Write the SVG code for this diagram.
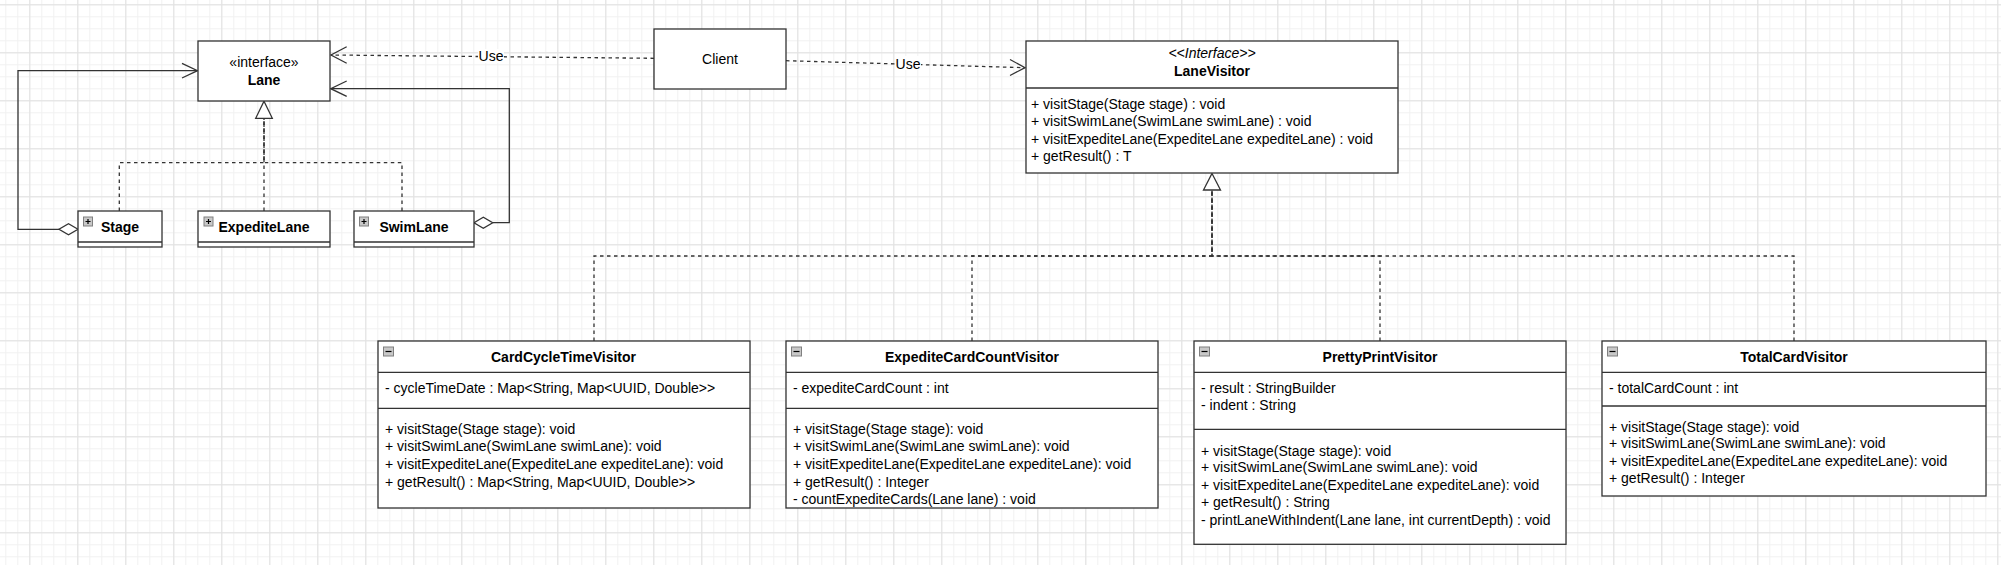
<svg xmlns="http://www.w3.org/2000/svg" width="2001" height="565" viewBox="0 0 2001 565">
<style>
  text { font-family: "Liberation Sans", Arial, sans-serif; font-size: 14px; fill: #000; }
  .b { font-weight: bold; }
  .c { text-anchor: middle; }
  .i { font-style: italic; }
  .box { fill: #fff; stroke: #333; stroke-width: 1.3; }
  .sep { stroke: #333; stroke-width: 1.3; fill: none; }
  .ln { fill: none; stroke: #333; stroke-width: 1.3; }
  .dash { fill: none; stroke: #333; stroke-width: 1.3; stroke-dasharray: 3.5 3.5; }
  .icon { fill: #c8c8c8; stroke: #808080; stroke-width: 1; }
  .glyph { stroke: #000; stroke-width: 1.2; }
  .tri { fill: #fff; stroke: #333; stroke-width: 1.3; }
  .dia { fill: #fff; stroke: #333; stroke-width: 1.3; }
  .lbl { fill: #fff; }
</style>
<defs>
  <pattern id="minor" width="12" height="12" patternUnits="userSpaceOnUse" x="5.3" y="4.3">
    <path d="M0 0.5H12M0.5 0V12" stroke="#f1f1f1" stroke-width="1" fill="none"/>
  </pattern>
  <pattern id="major" width="48" height="48" patternUnits="userSpaceOnUse" x="29.3" y="4.3">
    <path d="M0 0.5H48M0.5 0V48" stroke="#e1e1e1" stroke-width="1" fill="none"/>
  </pattern>
</defs>
<rect width="2001" height="565" fill="#fff"/>
<rect width="2001" height="565" fill="url(#minor)"/>
<rect width="2001" height="565" fill="url(#major)"/>

<g id="connectors">
  <!-- Client -> Lane (Use) -->
  <path class="dash" d="M654 58.3 L331 55"/>
  <path class="ln" d="M346.7 46.7 L331 55 L346.7 63.3"/>
  <rect class="lbl" x="478" y="49" width="26" height="14"/>
  <text x="491" y="61" class="c">Use</text>
  <!-- Client -> LaneVisitor (Use) -->
  <path class="dash" d="M786 60.7 L1025 67.7"/>
  <path class="ln" d="M1010 59.5 L1025 67.7 L1010 75.5"/>
  <rect class="lbl" x="895" y="56" width="26" height="14"/>
  <text x="908" y="68.5" class="c">Use</text>
  <!-- Stage aggregation to Lane -->
  <path class="ln" d="M59 229.3 H18 V70.7 H197"/>
  <path class="ln" d="M182 63.3 L197.5 70.7 L182 78"/>
  <path class="dia" d="M78 229.3 L68.5 223.8 L59 229.3 L68.5 234.8 Z"/>
  <!-- SwimLane aggregation to Lane -->
  <path class="ln" d="M492.7 222.7 H509.3 V88.7 H331"/>
  <path class="ln" d="M346.7 81 L330.7 88.7 L346.7 96.3"/>
  <path class="dia" d="M474 222.7 L483.3 217.2 L492.7 222.7 L483.3 228.2 Z"/>
  <!-- Realizations of Lane -->
  <path class="dash" d="M119.3 211 V162.7 H264 V118.3"/>
  <path class="dash" d="M264 211 V118.3"/>
  <path class="dash" d="M402 211 V162.7 H264 V118.3"/>
  <path class="tri" d="M264 101.3 L272.3 118.3 L255.7 118.3 Z"/>
  <!-- Realizations of LaneVisitor -->
  <path class="dash" d="M594 341 V256 H1212 V190"/>
  <path class="dash" d="M972 341 V256 H1212 V190"/>
  <path class="dash" d="M1380 341 V256 H1212 V190"/>
  <path class="dash" d="M1794 341 V256 H1212 V190"/>
  <path class="tri" d="M1212 173.5 L1220.5 190 L1203.5 190 Z"/>
</g>

<g id="Lane">
  <rect class="box" x="198" y="41" width="132" height="60"/>
  <text x="264" y="67" class="c">«interface»</text>
  <text x="264" y="85" class="c b">Lane</text>
</g>

<g id="Stage">
  <rect class="box" x="78" y="211" width="84" height="36"/>
  <line class="sep" x1="78" y1="242" x2="162" y2="242"/>
  <rect class="icon" x="83.5" y="217" width="9" height="9"/>
  <path class="glyph" d="M85.5 221.5H90.5M88 219V224"/>
  <text x="120" y="232" class="c b">Stage</text>
</g>

<g id="ExpediteLane">
  <rect class="box" x="198" y="211" width="132" height="36"/>
  <line class="sep" x1="198" y1="242" x2="330" y2="242"/>
  <rect class="icon" x="204" y="217" width="9" height="9"/>
  <path class="glyph" d="M206 221.5H211M208.5 219V224"/>
  <text x="264" y="232" class="c b">ExpediteLane</text>
</g>

<g id="SwimLane">
  <rect class="box" x="354" y="211" width="120" height="36"/>
  <line class="sep" x1="354" y1="242" x2="474" y2="242"/>
  <rect class="icon" x="359.5" y="217" width="9" height="9"/>
  <path class="glyph" d="M361.5 221.5H366.5M364 219V224"/>
  <text x="414" y="232" class="c b">SwimLane</text>
</g>

<g id="Client">
  <rect class="box" x="654" y="29" width="132" height="60"/>
  <text x="720" y="64" class="c">Client</text>
</g>

<g id="LaneVisitor">
  <rect class="box" x="1026" y="41" width="372" height="132"/>
  <line class="sep" x1="1026" y1="88" x2="1398" y2="88"/>
  <text x="1212" y="58.3" class="c i">&lt;&lt;Interface&gt;&gt;</text>
  <text x="1212" y="75.7" class="c b">LaneVisitor</text>
  <text x="1031" y="109.3">+ visitStage(Stage stage) : void</text>
  <text x="1031" y="126">+ visitSwimLane(SwimLane swimLane) : void</text>
  <text x="1031" y="144">+ visitExpediteLane(ExpediteLane expediteLane) : void</text>
  <text x="1031" y="160.7">+ getResult() : T</text>
</g>

<g id="CardCycleTimeVisitor">
  <rect class="box" x="378" y="341" width="372" height="167"/>
  <line class="sep" x1="378" y1="372.3" x2="750" y2="372.3"/>
  <line class="sep" x1="378" y1="408.3" x2="750" y2="408.3"/>
  <rect class="icon" x="383.5" y="347" width="10" height="9"/>
  <path class="glyph" d="M385.5 351.5H391.5"/>
  <text x="563.5" y="361.7" class="c b">CardCycleTimeVisitor</text>
  <text x="385" y="393.3">- cycleTimeDate : Map&lt;String, Map&lt;UUID, Double&gt;&gt;</text>
  <text x="385" y="434.3">+ visitStage(Stage stage): void</text>
  <text x="385" y="451">+ visitSwimLane(SwimLane swimLane): void</text>
  <text x="385" y="469">+ visitExpediteLane(ExpediteLane expediteLane): void</text>
  <text x="385" y="486.7">+ getResult() : Map&lt;String, Map&lt;UUID, Double&gt;&gt;</text>
</g>

<g id="ExpediteCardCountVisitor">
  <rect class="box" x="786" y="341" width="372" height="167"/>
  <line class="sep" x1="786" y1="372.3" x2="1158" y2="372.3"/>
  <line class="sep" x1="786" y1="408.3" x2="1158" y2="408.3"/>
  <rect class="icon" x="791.5" y="347" width="10" height="9"/>
  <path class="glyph" d="M793.5 351.5H799.5"/>
  <text x="972" y="361.7" class="c b">ExpediteCardCountVisitor</text>
  <text x="793" y="393.3">- expediteCardCount : int</text>
  <text x="793" y="434.3">+ visitStage(Stage stage): void</text>
  <text x="793" y="451">+ visitSwimLane(SwimLane swimLane): void</text>
  <text x="793" y="469">+ visitExpediteLane(ExpediteLane expediteLane): void</text>
  <text x="793" y="486.7">+ getResult() : Integer</text>
  <text x="793" y="504.3">- countExpediteCards(Lane lane) : void</text>
</g>

<g id="PrettyPrintVisitor">
  <rect class="box" x="1194" y="341" width="372" height="203.3"/>
  <line class="sep" x1="1194" y1="372.3" x2="1566" y2="372.3"/>
  <line class="sep" x1="1194" y1="429.3" x2="1566" y2="429.3"/>
  <rect class="icon" x="1199.5" y="347" width="10" height="9"/>
  <path class="glyph" d="M1201.5 351.5H1207.5"/>
  <text x="1380" y="361.7" class="c b">PrettyPrintVisitor</text>
  <text x="1201" y="393.3">- result : StringBuilder</text>
  <text x="1201" y="410.3">- indent : String</text>
  <text x="1201" y="455.7">+ visitStage(Stage stage): void</text>
  <text x="1201" y="472.3">+ visitSwimLane(SwimLane swimLane): void</text>
  <text x="1201" y="490">+ visitExpediteLane(ExpediteLane expediteLane): void</text>
  <text x="1201" y="507.3">+ getResult() : String</text>
  <text x="1201" y="525">- printLaneWithIndent(Lane lane, int currentDepth) : void</text>
</g>

<g id="TotalCardVisitor">
  <rect class="box" x="1602" y="341" width="384" height="155"/>
  <line class="sep" x1="1602" y1="372.3" x2="1986" y2="372.3"/>
  <line class="sep" x1="1602" y1="406" x2="1986" y2="406"/>
  <rect class="icon" x="1607.5" y="347" width="10" height="9"/>
  <path class="glyph" d="M1609.5 351.5H1615.5"/>
  <text x="1794" y="361.7" class="c b">TotalCardVisitor</text>
  <text x="1609" y="393.3">- totalCardCount : int</text>
  <text x="1609" y="432.3">+ visitStage(Stage stage): void</text>
  <text x="1609" y="448.3">+ visitSwimLane(SwimLane swimLane): void</text>
  <text x="1609" y="466">+ visitExpediteLane(ExpediteLane expediteLane): void</text>
  <text x="1609" y="482.7">+ getResult() : Integer</text>
</g>
</svg>
